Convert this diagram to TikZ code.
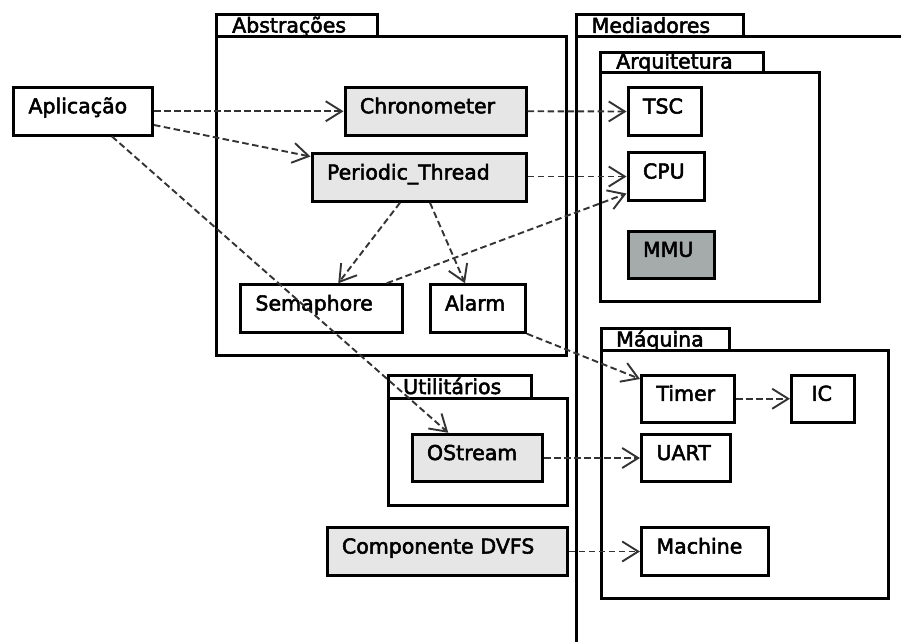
\documentclass[tikz,border=0pt]{standalone}
\usepackage{fontspec}
\setmainfont{DejaVu Sans}[UprightFeatures={FakeBold=2.5}]
\usetikzlibrary{arrows.meta}

\definecolor{compfill}{HTML}{E6E6E6}
\definecolor{hwfill}{HTML}{A5AAAB}
\definecolor{depgray}{HTML}{333333}

\tikzset{
  % class box: text left-aligned 15pt from the border
  cls/.style={draw=black, line width=3pt, rectangle, fill=white,
    inner xsep=15pt, inner ysep=0pt, minimum height=47.5pt,
    text height=15pt, text depth=11pt, align=left},
  comp/.style={cls, fill=compfill},
  hw/.style={cls, fill=hwfill},
  % package tab and body
  pkgline/.style={draw=black, line width=3pt, fill=white},
  pkglabel/.style={anchor=base west, inner sep=0pt},
  % dashed dependency with open arrow head
  dep/.style={draw=depgray, line width=1.9pt, dash pattern=on 6.5pt off 3.5pt,
    -{Straight Barb[length=16pt,width=20pt]}}
}

\begin{document}
\begin{tikzpicture}[x=1pt,y=-1pt,font=\fontsize{20.5pt}{24pt}\selectfont]
\useasboundingbox (0,0) rectangle (901,641);

% ---- package Abstrações
\draw[pkgline] (216.5,14.7) rectangle (377.8,36.5);
\node[pkglabel] (abslbl) at (232,32.5) {Abstrações};
\draw[pkgline] (216.5,36.5) rectangle (566.7,355.3);

% ---- package Mediadores (open to the right and bottom)
\begin{scope}
  \clip (0,0) rectangle (901,641);
  \draw[pkgline] (576.5,14.7) rectangle (743.2,36.8);
  \node[pkglabel] (medlbl) at (591.5,32.8) {Mediadores};
  \fill[white] (576.5,36.8) rectangle (910,650);
  \draw[draw=black, line width=3pt] (910,36.8) -- (576.5,36.8) -- (576.5,650);
\end{scope}

% ---- package Arquitetura
\draw[pkgline] (600.7,52) rectangle (763.2,72.5);
\node[pkglabel] (arqlbl) at (616,68.5) {Arquitetura};
\draw[pkgline] (600.7,72.5) rectangle (819.8,301.7);

% ---- package Máquina
\draw[pkgline] (601,328) rectangle (729.2,350.5);
\node[pkglabel] (maqlbl) at (616,346.5) {Máquina};
\draw[pkgline] (601,350.5) rectangle (888.3,598.3);

% ---- package Utilitários
\draw[pkgline] (388.7,375.5) rectangle (531.3,398);
\node[pkglabel] (utillbl) at (403,394) {Utilitários};
\draw[pkgline] (388.7,398) rectangle (567,505);

% ---- classes
\node[cls,  text width=109pt]   (apl)     at (83,111.25)     {Aplicação};
\node[comp, text width=151pt]   (chr)     at (435.5,111.25)  {Chronometer};
\node[comp, text width=184pt]   (pt)      at (419,177.5)     {Periodic\_Thread};
\node[cls,  text width=131.5pt] (sem)     at (321.25,308.5)  {Semaphore};
\node[cls,  text width=65.5pt]  (alarm)   at (477.75,308.5)  {Alarm};
\node[cls,  text width=43.5pt]  (tsc)     at (664.75,111.5)  {TSC};
\node[cls,  text width=46.5pt]  (cpu)     at (666.25,176.5)  {CPU};
\node[hw,   text width=56.5pt]  (mmu)     at (671.25,254.75) {MMU};
\node[comp, text width=100.5pt] (ostr)    at (477.25,458)    {OStream};
\node[comp, text width=210pt]   (dvfs)    at (447,551.5)     {Componente DVFS};
\node[cls,  text width=63pt]    (timer)   at (688,398.75)    {Timer};
\node[cls,  inner xsep=20pt, text width=23pt] (ic) at (823,398.75) {IC};
\node[cls,  text width=58.5pt]  (uart)    at (685.75,458)    {UART};
\node[cls,  text width=96.5pt]  (machine) at (704.75,551.5)  {Machine};

% ---- dependencies
\draw[dep] (apl.east) -- (chr.west);
\draw[dep] ([yshift=-13.75pt]apl.east) -- ([yshift=21pt]pt.west);
\draw[dep] ([xshift=29pt]apl.south) -- ([xshift=-29pt]ostr.north);
\draw[dep] (chr.east) -- (tsc.west);
\draw[dep] (pt.east |- cpu.west) -- (cpu.west);
\draw[dep] ([xshift=-19pt]pt.south) -- ([xshift=17pt]sem.north);
\draw[dep] ([xshift=11pt]pt.south) -- ([xshift=-12.75pt]alarm.north);
\draw[dep] ([xshift=65.5pt]sem.north) -- ([yshift=-17pt]cpu.west);
\draw[dep] (alarm.south east) -- ([yshift=-5.5pt]timer.north west);
\draw[dep] (ostr.east) -- (uart.west);
\draw[dep] (dvfs.east) -- (machine.west);
\draw[dep] (timer.east) -- (ic.west);
\end{tikzpicture}
\end{document}
